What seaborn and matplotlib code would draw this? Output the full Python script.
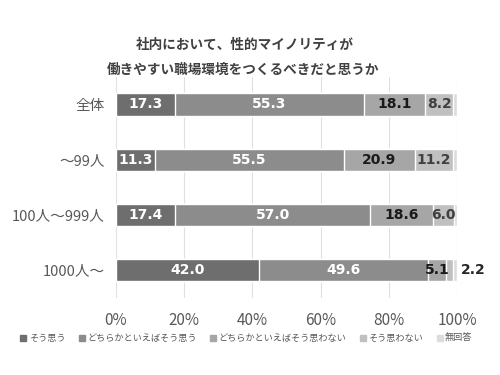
import matplotlib
matplotlib.use("Agg")
import matplotlib.pyplot as plt
import seaborn as sns
import numpy as np
import pandas as pd
from matplotlib.lines import Line2D

categories = ["全体", "～99人", "100人～999人", "1000人～"]
series_names = ["そう思う", "どちらかといえばそう思う", "どちらかといえばそう思わない", "そう思わない", "無回答"]
s1 = [17.3, 11.3, 17.4, 42.0]
s2 = [55.3, 55.5, 57.0, 49.6]
s3 = [18.1, 20.9, 18.6, 5.1]
s4 = [8.2, 11.2, 6.0, 2.2]
s5 = [1.1, 1.1, 1.0, 1.1]
xticks = [0, 20, 40, 60, 80, 100]

colors = ["#6e6e6e", "#8c8c8c", "#a6a6a6", "#c0c0c0", "#dcdcdc"]
label_colors = ["white", "white", "#1a1a1a", "#404040", None]

sns.set_theme(style="white")
plt.rcParams['font.family'] = ['Noto Sans CJK JP', 'DejaVu Sans']

fig = plt.figure(figsize=(5, 3.75), dpi=100)
ax = fig.add_axes([0.232, 0.206, 0.682, 0.589])

series = [s1, s2, s3, s4, s5]
cum = np.cumsum(np.array(series), axis=0)

for i in range(4, -1, -1):
    df = pd.DataFrame({"cat": categories, "val": cum[i]})
    sns.barplot(data=df, x="val", y="cat", orient="h", color=colors[i],
                width=0.4, ax=ax, saturation=1, zorder=2)

for i in range(4):
    for j, cat in enumerate(categories):
        v = series[i][j]
        start = cum[i][j] - v
        if i == 3 and j == 3:
            ax.text(101.0, j, f"{v:.1f}", ha="left", va="center",
                    fontsize=10, fontweight="bold", color="#262626",
                    family="DejaVu Sans")
            continue
        ax.text(start + v / 2, j, f"{v:.1f}", ha="center", va="center",
                fontsize=10, fontweight="bold", color=label_colors[i],
                family="DejaVu Sans")

ax.set_xlim(0, 100)
ax.set_ylim(3.5, -0.5)
ax.set_xticks(xticks)
ax.set_xticklabels([f"{t}%" for t in xticks], fontsize=11, color="#595959")
ax.tick_params(axis="y", labelsize=10.5, labelcolor="#595959", length=0, pad=8)
ax.tick_params(axis="x", length=0, pad=10)
ax.set_xlabel("")
ax.set_ylabel("")
ax.grid(axis="x", color="#e0e0e0", linewidth=0.8, zorder=0)
ax.set_axisbelow(True)
for sp in ax.spines.values():
    sp.set_visible(False)

fig.text(0.49, 0.88, "社内において、性的マイノリティが", ha="center", va="center",
         fontsize=9.8, fontweight="bold", color="#404040")
fig.text(0.486, 0.813, "働きやすい職場環境をつくるべきだと思うか", ha="center", va="center",
         fontsize=9.8, fontweight="bold", color="#404040")

handles = [Line2D([0], [0], marker="s", linestyle="none", markersize=4.5,
                  markerfacecolor=c, markeredgecolor=c) for c in colors]
fig.legend(handles, series_names, loc="center", bbox_to_anchor=(0.49, 0.098),
           ncol=5, frameon=False, fontsize=6.6, handletextpad=0.0,
           handlelength=1.2, columnspacing=1.2, labelcolor="#595959")

fig.savefig("out.png", dpi=100)
